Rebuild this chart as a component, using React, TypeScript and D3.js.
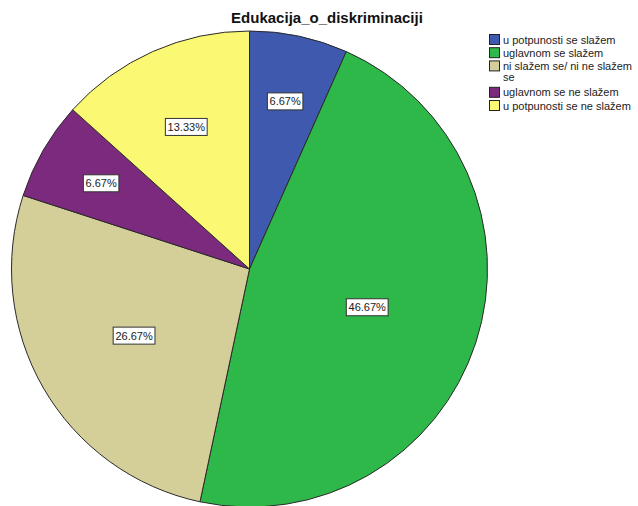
import React from "react";
import * as d3 from "d3";

const title = "Edukacija_o_diskriminaciji";
const categories = [
  "u potpunosti se slažem",
  "uglavnom se slažem",
  "ni slažem se/ ni ne slažem se",
  "uglavnom se ne slažem",
  "u potpunosti se ne slažem",
];
const legendLines = [
  ["u potpunosti se slažem"],
  ["uglavnom se slažem"],
  ["ni slažem se/ ni ne slažem", "se"],
  ["uglavnom se ne slažem"],
  ["u potpunosti se ne slažem"],
];
const percents = [6.67, 46.67, 26.67, 6.67, 13.33];
const colors = ["#3E59AE", "#2EB84A", "#D4CE99", "#7C2A7E", "#FBF874"];

const W = 638;
const H = 506;
const cx = 249.5;
const cy = 269;
const R = 238;

export default function App() {
  const pie = d3.pie<number>().sort(null).value((d) => d)(percents);
  const arc = d3.arc<d3.PieArcDatum<number>>().innerRadius(0).outerRadius(R);
  const fmt = (v: number) => v.toFixed(2) + "%";

  let ly = 39.5;
  const legendRows = legendLines.map((lines, i) => {
    const y = ly;
    ly += 13.2 * lines.length;
    return { lines, y, i };
  });

  return (
    <svg
      width={W}
      height={H}
      style={{ position: "absolute", left: 0, top: 0, background: "#fff" }}
      fontFamily="'Liberation Sans', Arial, sans-serif"
    >
      <rect x={0} y={0} width={W} height={H} fill="#fff" />
      <text x={327} y={23} textAnchor="middle" fontSize={15} fontWeight="bold" fill="#111">
        {title}
      </text>
      <g transform={`translate(${cx},${cy})`}>
        {pie.map((p, i) => (
          <path key={i} d={arc(p) || ""} fill={colors[i]} stroke="#2a2a2a" strokeWidth={1} />
        ))}
        {pie.map((p, i) => {
          const f = p.value / 100;
          const mid = (p.startAngle + p.endAngle) / 2;
          const lr = R * (0.8 - 1.3 * f + 1.5 * f * f);
          const x = lr * Math.sin(mid);
          const y = -lr * Math.cos(mid);
          const label = fmt(p.value);
          const w = label.length * 6.3 + 4;
          return (
            <g key={"l" + i} transform={`translate(${x},${y})`}>
              <rect x={-w / 2} y={-8.5} width={w} height={17} fill="#fff" stroke="#333" strokeWidth={1} />
              <text x={0} y={4} textAnchor="middle" fontSize={11} fill="#222">
                {label}
              </text>
            </g>
          );
        })}
      </g>
      <g>
        {legendRows.map(({ lines, y, i }) => (
          <g key={categories[i]}>
            <rect x={489.5} y={y - 5} width={10} height={10} fill={colors[i]} stroke="#222" strokeWidth={1} />
            {lines.map((t, j) => (
              <text key={j} x={503} y={y + 4 + j * 11.5} fontSize={11} fill="#222">
                {t}
              </text>
            ))}
          </g>
        ))}
      </g>
    </svg>
  );
}
